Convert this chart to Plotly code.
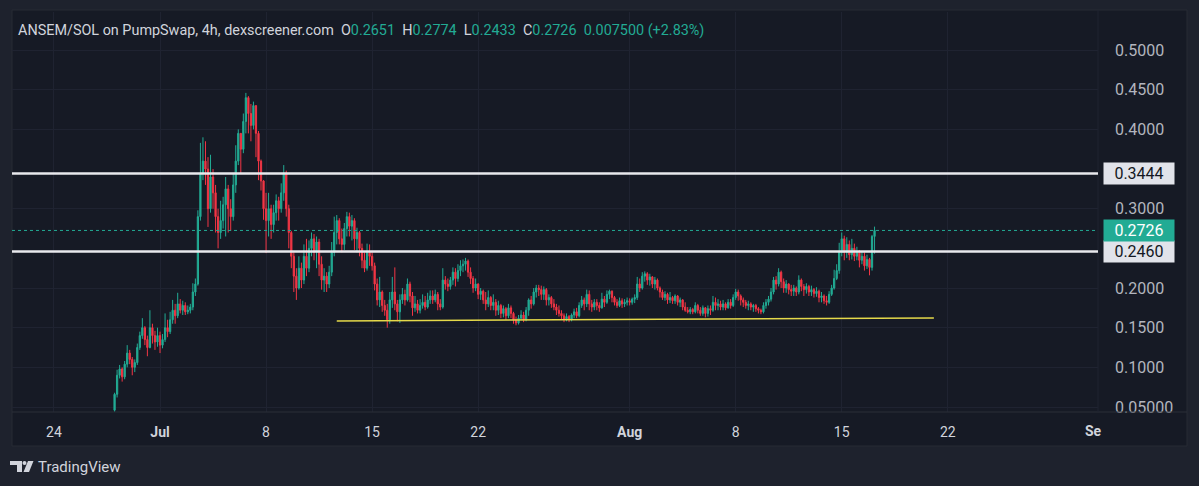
import pandas as pd
import plotly.graph_objects as go

# 4h candles, ANSEM/SOL on PumpSwap, from 2025-06-28 00:00
first_open = 0.046
closes = [
    .066, .090, .098, .088, .104, .118,
    .110, .100, .106, .125, .140, .150,
    .135, .125, .150, .140, .132, .140,
    .128, .135, .150, .145, .160, .172,
    .165, .180, .172, .178, .170, .172,
    .176, .195, .205, .290, .345, .360,
    .350, .300, .340, .320, .290, .270,
    .285, .305, .325, .300, .290, .330,
    .360, .395, .375, .410, .440, .420,
    .405, .430, .395, .360, .335, .300,
    .285, .300, .280, .295, .310, .300,
    .320, .345, .300, .270, .240, .215,
    .200, .225, .210, .240, .225, .250,
    .262, .245, .258, .230, .210, .215,
    .205, .220, .245, .270, .285, .262,
    .255, .275, .290, .278, .285, .262,
    .270, .250, .235, .225, .245, .240,
    .228, .205, .185, .195, .178, .172,
    .160, .185, .195, .180, .170, .185,
    .192, .185, .205, .190, .175, .180,
    .172, .178, .182, .176, .185, .190,
    .185, .192, .180, .176, .210, .205,
    .202, .210, .220, .212, .222, .228,
    .230, .234, .220, .212, .200, .205,
    .192, .196, .185, .180, .188, .178,
    .182, .172, .178, .168, .174, .165,
    .175, .168, .160, .156, .162, .166,
    .160, .172, .185, .180, .195, .200,
    .198, .192, .198, .185, .188, .180,
    .176, .172, .168, .165, .160, .164,
    .160, .166, .170, .165, .178, .185,
    .180, .192, .180, .176, .182, .178,
    .175, .186, .182, .192, .196, .188,
    .182, .178, .184, .180, .182, .184,
    .182, .186, .188, .205, .200, .215,
    .218, .210, .214, .205, .210, .200,
    .195, .188, .192, .185, .188, .184,
    .190, .182, .185, .176, .172, .170,
    .173, .170, .178, .172, .168, .175,
    .168, .174, .172, .182, .178, .180,
    .176, .180, .175, .182, .178, .188,
    .195, .190, .185, .182, .178, .180,
    .176, .178, .174, .172, .170, .178,
    .182, .186, .195, .210, .205, .220,
    .208, .200, .205, .198, .196, .200,
    .195, .210, .202, .198, .202, .195,
    .198, .193, .196, .188, .190, .184,
    .182, .192, .200, .212, .222, .245,
    .262, .245, .255, .242, .250, .240,
    .245, .235, .240, .228, .236, .226,
    .2651, .2726,
]
highs = [
    .068, .097, .103, .100, .108, .128,
    .122, .113, .110, .130, .145, .162,
    .152, .140, .172, .155, .146, .150,
    .145, .142, .168, .160, .170, .185,
    .180, .194, .186, .184, .182, .178,
    .180, .206, .212, .298, .383, .390,
    .385, .365, .368, .350, .330, .300,
    .310, .315, .340, .330, .312, .345,
    .380, .400, .395, .420, .446, .442,
    .432, .435, .430, .398, .362, .336,
    .320, .320, .305, .305, .318, .315,
    .332, .355, .348, .305, .272, .245,
    .225, .240, .232, .255, .262, .260,
    .270, .268, .265, .262, .240, .225,
    .220, .228, .258, .290, .292, .288,
    .275, .282, .296, .295, .292, .288,
    .276, .272, .256, .245, .256, .255,
    .245, .232, .212, .214, .197, .185,
    .180, .195, .214, .226, .185, .192,
    .200, .198, .212, .208, .195, .190,
    .185, .186, .192, .190, .194, .197,
    .197, .198, .195, .186, .225, .215,
    .212, .214, .226, .225, .230, .235,
    .236, .238, .236, .226, .215, .212,
    .206, .200, .198, .195, .197, .190,
    .192, .186, .184, .180, .178, .176,
    .180, .178, .170, .164, .166, .172,
    .170, .176, .187, .190, .200, .204,
    .204, .203, .202, .200, .192, .190,
    .186, .180, .178, .172, .168, .168,
    .166, .168, .174, .175, .182, .190,
    .188, .198, .197, .185, .186, .186,
    .182, .194, .190, .197, .198, .197,
    .190, .186, .188, .187, .186, .188,
    .187, .188, .192, .214, .212, .220,
    .221, .220, .218, .215, .214, .212,
    .202, .198, .196, .194, .195, .190,
    .192, .191, .188, .186, .182, .176,
    .176, .175, .182, .180, .176, .178,
    .176, .178, .178, .190, .188, .186,
    .184, .185, .182, .186, .186, .192,
    .199, .198, .192, .188, .185, .184,
    .182, .180, .180, .176, .174, .182,
    .186, .190, .200, .214, .215, .225,
    .222, .212, .210, .206, .204, .204,
    .202, .216, .212, .205, .206, .204,
    .203, .200, .201, .198, .195, .192,
    .190, .196, .204, .223, .230, .257,
    .270, .266, .264, .260, .262, .256,
    .252, .248, .246, .245, .242, .238,
    .267, .2774,
]
lows = [
    .044, .062, .086, .082, .085, .100,
    .104, .090, .094, .103, .122, .136,
    .128, .114, .124, .130, .122, .126,
    .118, .124, .132, .138, .142, .155,
    .155, .162, .168, .166, .166, .167,
    .168, .172, .190, .203, .285, .336,
    .330, .277, .295, .300, .270, .250,
    .262, .275, .265, .270, .272, .285,
    .320, .355, .345, .370, .395, .395,
    .385, .400, .365, .336, .323, .286,
    .244, .265, .262, .270, .285, .285,
    .295, .310, .290, .250, .225, .195,
    .185, .198, .200, .205, .215, .220,
    .240, .235, .225, .215, .198, .195,
    .195, .200, .215, .240, .255, .255,
    .245, .248, .265, .265, .260, .248,
    .245, .240, .225, .220, .222, .228,
    .222, .197, .178, .176, .170, .165,
    .150, .155, .175, .172, .158, .156,
    .180, .178, .183, .182, .165, .170,
    .168, .168, .174, .172, .174, .180,
    .180, .182, .172, .172, .174, .198,
    .196, .198, .204, .202, .208, .215,
    .220, .222, .214, .205, .194, .196,
    .186, .185, .180, .172, .176, .172,
    .172, .165, .166, .162, .163, .160,
    .162, .162, .155, .153, .154, .160,
    .157, .158, .165, .174, .178, .188,
    .190, .185, .185, .178, .178, .175,
    .172, .166, .164, .160, .157, .158,
    .157, .158, .162, .162, .163, .175,
    .172, .176, .172, .170, .172, .172,
    .170, .174, .176, .180, .186, .182,
    .178, .175, .176, .175, .176, .178,
    .178, .179, .181, .185, .195, .198,
    .208, .204, .203, .200, .198, .197,
    .188, .185, .184, .180, .181, .180,
    .180, .178, .176, .172, .170, .168,
    .167, .167, .168, .168, .165, .165,
    .163, .164, .166, .170, .172, .172,
    .172, .172, .172, .174, .174, .176,
    .185, .184, .178, .176, .174, .172,
    .172, .170, .170, .168, .167, .168,
    .174, .178, .183, .192, .198, .202,
    .200, .194, .194, .192, .190, .190,
    .190, .192, .196, .190, .193, .190,
    .190, .188, .189, .182, .182, .180,
    .178, .180, .190, .198, .210, .218,
    .240, .235, .238, .235, .236, .234,
    .235, .226, .230, .222, .224, .216,
    .222, .2433,
]
opens = [first_open] + closes[:-1]
times = pd.date_range("2025-06-28 00:00", periods=len(closes), freq="4h")

# horizontal levels and the yellow support line
levels = [0.3444, 0.2460]
last_price = 0.2726
support_times = ["2025-07-12 16:00", "2025-08-21 02:00"]
support_prices = [0.1585, 0.1622]

y_ticks = [0.05, 0.10, 0.15, 0.20, 0.30, 0.40, 0.45, 0.50]
y_labels = ["0.05000", "0.1000", "0.1500", "0.2000", "0.3000", "0.4000", "0.4500", "0.5000"]
x_ticks = ["2025-06-24", "2025-07-01", "2025-07-08", "2025-07-15", "2025-07-22",
           "2025-08-01", "2025-08-08", "2025-08-15", "2025-08-22"]
x_labels = ["24", "<b>Jul</b>", "8", "15", "22", "<b>Aug</b>", "8", "15", "22"]

UP = "#22ab94"
DOWN = "#f23645"
TXT = "#d1d4dc"
BG_OUT = "#1e222d"
W, H = 1199, 486
L, R, T, B = 12, 1098, 12, 412  # plot area in pixels


def px(x):
    return (x - L) / (R - L)


def py(y):
    return (B - y) / (B - T)


fig = go.Figure()
fig.add_trace(go.Candlestick(
    x=times, open=opens, high=highs, low=lows, close=closes,
    increasing=dict(line=dict(color=UP, width=1), fillcolor=UP),
    decreasing=dict(line=dict(color=DOWN, width=1), fillcolor=DOWN),
    whiskerwidth=0, hoverinfo="skip", showlegend=False,
))
fig.add_trace(go.Scatter(
    x=support_times, y=support_prices, mode="lines",
    line=dict(color="#e5d94a", width=1.5), hoverinfo="skip", showlegend=False,
))

shapes = [
    # chart panel
    dict(type="rect", xref="paper", yref="paper", x0=px(12), x1=px(1187), y0=py(446), y1=py(10),
         fillcolor="#161a25", line=dict(color="#262a35", width=1), layer="below"),
    dict(type="line", xref="paper", yref="paper", x0=px(12), x1=px(1187), y0=0, y1=0,
         line=dict(color="#2a2e39", width=1)),
    dict(type="line", xref="paper", yref="paper", x0=px(1098), x1=px(1098), y0=0, y1=py(10),
         line=dict(color="#1f2330", width=1)),
    dict(type="line", xref="paper", yref="y", x0=0, x1=1, y0=last_price, y1=last_price,
         line=dict(color=UP, width=1, dash="dot")),
]
for lv in levels:
    shapes.append(dict(type="line", xref="paper", yref="y", x0=0, x1=1, y0=lv, y1=lv,
                       line=dict(color="#e8e9ed", width=2.5)))

# TradingView logo
shapes += [
    dict(type="path", xref="paper", yref="paper", fillcolor=TXT, line=dict(width=0),
         path=f"M {px(10)},{py(461)} L {px(22)},{py(461)} L {px(22)},{py(472)} L {px(17)},{py(472)} "
              f"L {px(17)},{py(465)} L {px(10)},{py(465)} Z"),
    dict(type="circle", xref="paper", yref="paper", fillcolor=TXT, line=dict(width=0),
         x0=px(22.5), x1=px(26.5), y0=py(465), y1=py(461)),
    dict(type="path", xref="paper", yref="paper", fillcolor=TXT, line=dict(width=0),
         path=f"M {px(28)},{py(461)} L {px(33.5)},{py(461)} L {px(29)},{py(472)} L {px(23.5)},{py(472)} Z"),
]

g = lambda s: f"<span style='color:{UP}'>{s}</span>"
header = ("ANSEM/SOL on PumpSwap, 4h, dexscreener.com  "
          f"O{g('0.2651')}  H{g('0.2774')}  L{g('0.2433')}  C{g('0.2726')}  {g('0.007500 (+2.83%)')}")

annotations = [
    dict(text=header, xref="paper", yref="paper", x=px(16), y=py(30), xanchor="left", yanchor="middle",
         showarrow=False, font=dict(size=14.4, color=TXT)),
    dict(text="<b>Se</b>", xref="paper", yref="paper", x=px(1093), y=py(431), xanchor="center",
         yanchor="middle", showarrow=False, font=dict(size=14, color=TXT)),
    dict(text="TradingView", xref="paper", yref="paper", x=px(36), y=py(466.5), xanchor="left",
         yanchor="middle", showarrow=False, font=dict(size=15, color=TXT)),
]
for lv in levels:
    annotations.append(dict(text=f"{lv:.4f}", xref="paper", yref="y", x=px(1103), y=lv,
                            xanchor="left", yanchor="middle", showarrow=False, width=64, height=15,
                            borderpad=3, bgcolor="#e1e3ea", font=dict(size=16, color="#131722")))
annotations.append(dict(text=f"{last_price:.4f}", xref="paper", yref="y", x=px(1103), y=last_price,
                        xanchor="left", yanchor="middle", showarrow=False, width=64, height=15,
                        borderpad=3, bgcolor=UP, font=dict(size=16, color="#ffffff")))

fig.update_layout(
    width=W, height=H,
    margin=dict(l=L, r=W - R, t=T, b=H - B),
    paper_bgcolor=BG_OUT,
    plot_bgcolor="#161a25",
    font=dict(family="Roboto, 'Noto Sans', sans-serif", color=TXT),
    shapes=shapes,
    annotations=annotations,
    xaxis=dict(
        range=["2025-06-21 05:30", "2025-08-31 22:00"],
        tickvals=x_ticks, ticktext=x_labels, tickfont=dict(size=14, color=TXT),
        showgrid=True, gridcolor="#1f2331", gridwidth=1, zeroline=False,
        ticks="", ticklabelstandoff=10, rangeslider=dict(visible=False), fixedrange=True,
    ),
    yaxis=dict(
        range=[0.0437, 0.548], side="right",
        tickvals=y_ticks, ticktext=y_labels, tickfont=dict(size=16, color="#b2b5be"),
        showgrid=True, gridcolor="#1f2331", gridwidth=1, zeroline=False,
        ticks="", ticklabelstandoff=16, fixedrange=True,
    ),
)

# drop the browser's default 8px body margin so the figure sits at the page corner
fig.write_html("out.html", config={"displayModeBar": False},
               post_script=f"document.body.style.margin='0';document.body.style.background='{BG_OUT}';")
